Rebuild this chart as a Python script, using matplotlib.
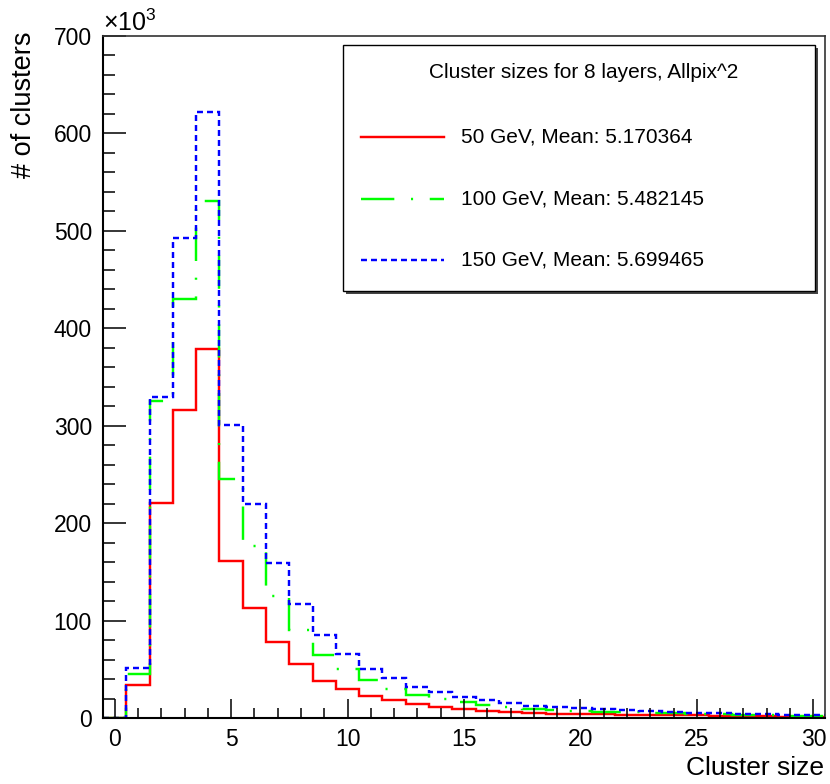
import numpy as np
import matplotlib
matplotlib.use("Agg")
from matplotlib import pyplot as plt
from matplotlib.ticker import MultipleLocator
from matplotlib.lines import Line2D
from matplotlib.patches import Rectangle

plt.rcParams['font.family'] = ['Liberation Sans', 'DejaVu Sans']
plt.rcParams['mathtext.fontset'] = 'custom'
plt.rcParams['mathtext.rm'] = 'Liberation Sans'
plt.rcParams['lines.scale_dashes'] = False

# cluster size bins 0..30, counts in units of 10^3
cluster_size = np.arange(0, 31)
counts_50 = [0, 34, 221, 316, 379, 161, 113, 78, 55, 38, 30, 23, 18, 14, 11.3, 9.2, 7.5, 6.2, 5.1, 4.5,
             4.0, 3.6, 3.3, 3.0, 2.8, 2.6, 2.2, 1.9, 1.6, 1.3, 1.0]
counts_100 = [0, 45, 325, 430, 531, 245, 177, 125, 90, 65, 50, 39, 30, 24, 20, 16, 13.4, 11, 9.5, 8.2,
              7.2, 6.5, 5.9, 5.4, 4.9, 4.6, 4.0, 3.5, 3.0, 2.5, 2.0]
counts_150 = [0, 51, 329, 493, 622, 301, 220, 159, 117, 85, 65.5, 50.7, 40.7, 32, 27, 22, 18.5, 15, 12.7, 11,
              10, 9, 8, 7, 6.3, 5.6, 5, 4.4, 3.8, 3.3, 2.8]
labels = ["50 GeV, Mean: 5.170364", "100 GeV, Mean: 5.482145", "150 GeV, Mean: 5.699465"]
legend_title = "Cluster sizes for 8 layers, Allpix^2"

W, H = 830, 784
fig = plt.figure(figsize=(W / 100, H / 100), dpi=100)
ax = fig.add_axes([103 / W, 1 - 718 / H, (825 - 103) / W, (718 - 36) / H])

edges = np.append(cluster_size - 0.5, cluster_size[-1] + 0.5)
styles = [
    dict(color=(1, 0, 0), linestyle='-'),
    dict(color=(0, 1, 0), linestyle=(0, (24, 12, 1.5, 12))),
    dict(color=(0, 0, 1), linestyle=(0, (4.3, 2.9))),
]
for counts, st in zip([counts_50, counts_100, counts_150], styles):
    ax.stairs(counts, edges, baseline=None, linewidth=1.75, **st)

ax.set_xlim(-0.5, 30.5)
ax.set_ylim(0, 700)
ax.xaxis.set_major_locator(MultipleLocator(5))
ax.xaxis.set_minor_locator(MultipleLocator(1))
ax.yaxis.set_major_locator(MultipleLocator(100))
ax.yaxis.set_minor_locator(MultipleLocator(20))
ax.tick_params(axis='both', which='both', direction='in', top=False, right=False, width=1.1, labelsize=16.5)
ax.tick_params(axis='y', which='major', length=16.5, pad=8)
ax.tick_params(axis='y', which='minor', length=8.5)
ax.tick_params(axis='x', which='major', length=13.5, pad=7)
ax.tick_params(axis='x', which='minor', length=7)
for side in ['left', 'bottom']:
    ax.spines[side].set_linewidth(1.5)
for side in ['top', 'right']:
    ax.spines[side].set_linewidth(1.2)
    ax.spines[side].set_color('#333333')

ax.text(0, 1.0, r'$\mathregular{\times10^{3}}$', transform=ax.transAxes, ha='left', va='bottom', fontsize=18)
fig.text(24 / W, 1 - 32 / H, "# of clusters", rotation=90, ha='center', va='top', fontsize=19.5)
fig.text(824 / W, 1 - 768 / H, "Cluster size", ha='right', va='center', fontsize=19)

# legend box (ROOT TLegend style with shadow)
bx0, by0, bx1, by1 = 343, 45, 815, 291
fig.patches.append(Rectangle((bx0 / W + 3 / W, 1 - by1 / H - 3 / H), (bx1 - bx0) / W, (by1 - by0) / H,
                             transform=fig.transFigure, facecolor='#444444', edgecolor='none', zorder=5))
fig.patches.append(Rectangle((bx0 / W, 1 - by1 / H), (bx1 - bx0) / W, (by1 - by0) / H,
                             transform=fig.transFigure, facecolor='white', edgecolor='black', linewidth=1.0, zorder=6))
fig.text(584 / W, 1 - 73 / H, legend_title, ha='center', va='center', fontsize=15, zorder=7)
for lab, st, yy in zip(labels, styles, [137, 199, 260]):
    fig.add_artist(Line2D([361 / W, 444 / W], [1 - yy / H, 1 - yy / H], transform=fig.transFigure,
                          linewidth=1.75, zorder=7, **st))
    fig.text(461 / W, 1 - yy / H, lab, ha='left', va='center', fontsize=15, zorder=7)

fig.savefig("out.png", dpi=100)
